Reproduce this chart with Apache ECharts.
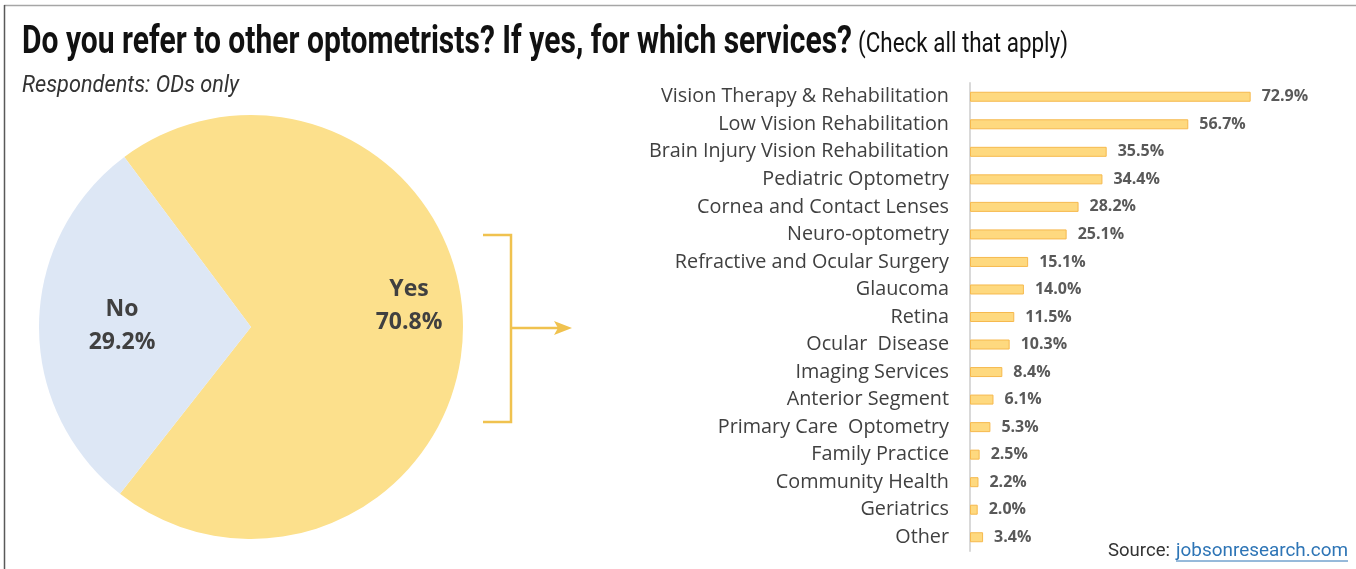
<!DOCTYPE html>
<html>
<head>
<meta charset="utf-8">
<script src="https://cdn.jsdelivr.net/npm/echarts@6/dist/echarts.min.js"></script>
<style>
  html, body { margin: 0; padding: 0; background: #fff; }
  #chart { width: 1356px; height: 569px; }
</style>
</head>
<body>
<div id="chart"></div>
<script>
// pie: do you refer out?
const pieNames = ['Yes', 'No']
const pieValues = [70.8, 29.2]

// bars: services referred for (top to bottom)
const services = [
  'Vision Therapy & Rehabilitation',
  'Low Vision Rehabilitation',
  'Brain Injury Vision Rehabilitation',
  'Pediatric Optometry',
  'Cornea and Contact Lenses',
  'Neuro-optometry',
  'Refractive and Ocular Surgery',
  'Glaucoma',
  'Retina',
  'Ocular  Disease',
  'Imaging Services',
  'Anterior Segment',
  'Primary Care  Optometry',
  'Family Practice',
  'Community Health',
  'Geriatrics',
  'Other'
]
const shares = [72.9, 56.7, 35.5, 34.4, 28.2, 25.1, 15.1, 14.0, 11.5, 10.3, 8.4, 6.1, 5.3, 2.5, 2.2, 2.0, 3.4]

const chart = echarts.init(document.getElementById('chart'), null, { renderer: 'canvas' })

const gold = '#f0c24f'
const labelFont = "'Open Sans', 'Noto Sans', sans-serif"

// condensed look: squeeze Roboto horizontally to the reference width
const ctx = document.createElement('canvas').getContext('2d')
function squeezed(text, font, x, y, width, fill) {
  ctx.font = font
  const w = ctx.measureText(text).width
  return {
    type: 'text', x: x, y: y, scaleX: width / w,
    style: { text: text, font: font, fill: fill, align: 'left', verticalAlign: 'middle' }
  }
}

chart.setOption({
  backgroundColor: '#fff',
  animation: false,
  grid: { left: 970, right: 78, top: 83, bottom: 18 },
  xAxis: { type: 'value', min: 0, max: 80, show: false },
  yAxis: {
    type: 'category',
    inverse: true,
    data: services,
    axisTick: { show: false },
    axisLine: { show: true, lineStyle: { color: '#d9d9d9', width: 2 } },
    axisLabel: { fontFamily: labelFont, fontSize: 19.8, color: '#404040', margin: 21 }
  },
  series: [
    {
      type: 'pie',
      center: [251, 327],
      radius: [0, 212],
      startAngle: 126.7,
      clockwise: true,
      silent: true,
      data: pieNames.map((n, i) => ({
        name: n,
        value: pieValues[i],
        label: { offset: i === 0 ? [49, -22] : [-20, 0] }
      })),
      color: ['#fce08c', '#dde7f5'],
      itemStyle: { borderWidth: 0 },
      label: {
        position: 'inside',
        formatter: p => p.name + '\n' + p.value.toFixed(1) + '%',
        fontFamily: labelFont, fontWeight: 'bold', fontSize: 23, lineHeight: 33,
        color: '#404040'
      },
      labelLine: { show: false }
    },
    {
      type: 'bar',
      data: shares,
      barWidth: 10,
      itemStyle: { color: '#fed97f', borderColor: '#f6b94e', borderWidth: 1 },
      label: {
        show: true, position: 'right', distance: 11,
        formatter: p => p.value.toFixed(1) + '%',
        fontFamily: labelFont, fontWeight: 'bold', fontSize: 16, color: '#595959'
      }
    }
  ],
  graphic: [
    // frame
    { type: 'line', shape: { x1: 4, y1: 5.5, x2: 1356, y2: 5.5 }, style: { stroke: '#a6a6a6', lineWidth: 1.5 } },
    { type: 'line', shape: { x1: 4.5, y1: 5, x2: 4.5, y2: 569 }, style: { stroke: '#595959', lineWidth: 1.5 } },
    // titles
    squeezed('Do you refer to other optometrists? If yes, for which services?', 'bold 38px Roboto', 22, 43, 830, '#111'),
    squeezed('(Check all that apply)', '28px Roboto', 858, 45, 210, '#111'),
    squeezed('Respondents: ODs only', 'italic 23px Roboto', 22, 86, 217, '#333'),
    // source
    squeezed('Source:', '19px Roboto', 1108, 551, 62, '#333'),
    squeezed('jobsonresearch.com', '19px Roboto', 1176, 551, 172, '#2e75b6'),
    { type: 'line', shape: { x1: 1176, y1: 561, x2: 1348, y2: 561 }, style: { stroke: '#2e75b6', lineWidth: 1 } },
    // bracket + arrow
    { type: 'polyline', shape: { points: [[483, 235], [511, 235], [511, 422], [483, 422]] }, style: { stroke: gold, lineWidth: 2.5, fill: null } },
    { type: 'line', shape: { x1: 511, y1: 328, x2: 562, y2: 328 }, style: { stroke: gold, lineWidth: 2.5 } },
    { type: 'polygon', shape: { points: [[572, 328], [554, 321], [558, 328], [554, 335]] }, style: { fill: gold } }
  ]
})
</script>
</body>
</html>
